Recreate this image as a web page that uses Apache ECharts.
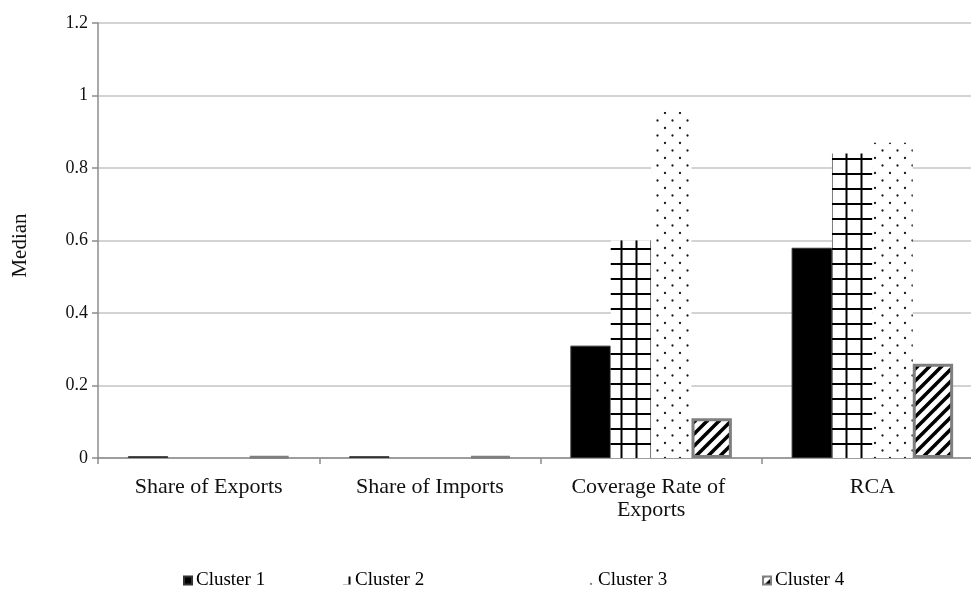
<!DOCTYPE html>
<html>
<head>
<meta charset="utf-8">
<script src="https://cdn.jsdelivr.net/npm/echarts@6/dist/echarts.min.js"></script>
<style>
  html, body { margin: 0; padding: 0; background: #fff; overflow: hidden; }
  #chart { width: 990px; height: 590px; }
</style>
</head>
<body>
<div id="chart"></div>
<script>
// Indicator categories on the x axis
const categories = ['Share of Exports', 'Share of Imports', 'Coverage Rate of Exports', 'RCA'];
// Median value of each indicator per cluster
const cluster1 = [0.005, 0.005, 0.31, 0.58];
const cluster2 = [0, 0, 0.60, 0.84];
const cluster3 = [0, 0, 0.955, 0.87];
const cluster4 = [0.004, 0.004, 0.11, 0.26];
const seriesNames = ['Cluster 1', 'Cluster 2', 'Cluster 3', 'Cluster 4'];
const yTicks = { min: 0, max: 1.2, step: 0.2 };

const FONT = '"Liberation Serif", "Times New Roman", serif';

// Monochrome fill patterns drawn on small canvases
function makeTile(size, draw) {
  const c = document.createElement('canvas');
  c.width = size; c.height = size;
  const ctx = c.getContext('2d');
  ctx.fillStyle = '#fff';
  ctx.fillRect(0, 0, size, size);
  draw(ctx, size);
  return c;
}
const gridTile = makeTile(15, (ctx, s) => {
  ctx.fillStyle = '#000';
  ctx.fillRect(0, 8, s, 2);
  ctx.fillRect(5.5, 0, 2, s);
});
const dotTile = makeTile(15, (ctx) => {
  ctx.fillStyle = '#1a1a1a';
  [[5, 8], [12.5, 0.5], [12.5, 15.5]].forEach(([x, y]) => {
    ctx.beginPath(); ctx.arc(x, y, 1.15, 0, Math.PI * 2); ctx.fill();
  });
});
const hatchTile = makeTile(12, (ctx, s) => {
  ctx.strokeStyle = '#000';
  ctx.lineWidth = 3.5;
  ctx.lineCap = 'square';
  [-s, 0, s].forEach((dx) => {
    ctx.beginPath();
    ctx.moveTo(dx, s);
    ctx.lineTo(dx + s, 0);
    ctx.stroke();
  });
});

const styles = [
  { color: '#000', borderColor: '#333', borderWidth: 1 },
  { color: { image: gridTile, repeat: 'repeat' }, borderWidth: 0 },
  { color: { image: dotTile, repeat: 'repeat' }, borderWidth: 0 },
  { color: { image: hatchTile, repeat: 'repeat' }, borderColor: '#7f7f7f', borderWidth: 3 }
];
const values = [cluster1, cluster2, cluster3, cluster4];
const legendLeft = [183, 343, 586, 762];

const chart = echarts.init(document.getElementById('chart'), null, { renderer: 'canvas' });
chart.setOption({
  animation: false,
  backgroundColor: '#fff',
  textStyle: { fontFamily: FONT, color: '#000' },
  grid: { left: 98, top: 23, width: 885, height: 435, containLabel: false },
  legend: seriesNames.map((n, i) => ({
    data: [n],
    left: legendLeft[i],
    top: 570,
    padding: 0,
    itemWidth: 8,
    itemHeight: 8,
    itemGap: 5,
    icon: 'rect',
    textStyle: { fontFamily: FONT, fontSize: 19, lineHeight: 21, color: '#000', padding: [0, 0, 0, -1] }
  })),
  xAxis: {
    type: 'category',
    data: categories,
    axisLine: { lineStyle: { color: '#8c8c8c', width: 1.5 } },
    axisTick: { show: true, length: 6, alignWithLabel: false, lineStyle: { color: '#8c8c8c', width: 1.5 } },
    axisLabel: {
      interval: 0, margin: 18, fontFamily: FONT, fontSize: 22, color: '#111',
      width: 190, overflow: 'break', lineHeight: 23
    }
  },
  yAxis: {
    type: 'value',
    min: yTicks.min, max: yTicks.max, interval: yTicks.step,
    name: 'Median',
    nameLocation: 'middle',
    nameGap: 67,
    nameRotate: 90,
    nameTextStyle: { fontFamily: FONT, fontSize: 21, color: '#111', padding: [0, 10, 0, 0] },
    axisLine: { show: true, lineStyle: { color: '#8c8c8c', width: 1.5 } },
    axisTick: { show: true, length: 6, lineStyle: { color: '#8c8c8c', width: 1.5 } },
    axisLabel: { fontFamily: FONT, fontSize: 18, color: '#111', margin: 10 },
    splitLine: { lineStyle: { color: '#c4c4c4', width: 1.5 } }
  },
  series: seriesNames.map((n, i) => ({
    name: n,
    type: 'bar',
    data: values[i],
    barGap: '0%',
    barCategoryGap: '27%',
    itemStyle: styles[i]
  }))
});
</script>
</body>
</html>
